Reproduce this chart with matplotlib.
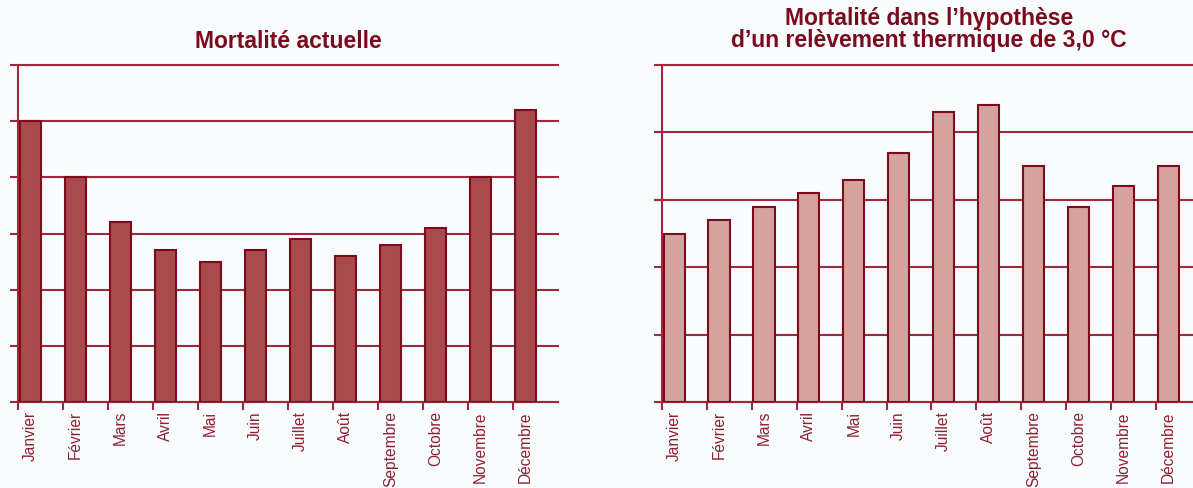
import numpy as np
import matplotlib
matplotlib.use("Agg")
import matplotlib.pyplot as plt

# Monthly mortality index (grid units)
mois = ["Janvier", "Février", "Mars", "Avril", "Mai", "Juin", "Juillet",
        "Août", "Septembre", "Octobre", "Novembre", "Décembre"]
mortalite_actuelle = [5.0, 4.0, 3.2, 2.7, 2.5, 2.7, 2.9, 2.6, 2.8, 3.1, 4.0, 5.2]
mortalite_plus3 = [2.5, 2.7, 2.9, 3.1, 3.3, 3.7, 4.3, 4.4, 3.5, 2.9, 3.2, 3.5]

titre_gauche = "Mortalité actuelle"
titre_droite = ["Mortalité dans l’hypothèse", "d’un relèvement thermique de 3,0 °C"]

BG = "#f8fcfd"
GRID = "#a0283b"
EDGE = "#7c0b1e"
TEXT = "#7a0a1e"
LABEL = "#8e2032"
FILL_L = "#a94a4c"
FILL_R = "#d6a29d"

plt.rcParams["font.family"] = ["Liberation Sans", "DejaVu Sans"]

W, H = 1193, 488
fig = plt.figure(figsize=(W / 100, H / 100), dpi=100, facecolor=BG)


def px_axes(x0, x1, ytop, ybot):
    return fig.add_axes([x0 / W, (H - ybot) / H, (x1 - x0) / W, (ybot - ytop) / H])


def draw_panel(ax, values, ymax, fill):
    ax.set_facecolor(BG)
    n = len(values)
    x = np.arange(n)
    ax.bar(x + 0.035, values, width=0.47, align="edge", color=fill,
           edgecolor=EDGE, linewidth=1.5, zorder=3)
    ax.set_xlim(0, n)
    ax.set_ylim(0, ymax)
    for s in ("top", "right"):
        ax.spines[s].set_visible(False)
    for s in ("left", "bottom"):
        ax.spines[s].set_color(GRID)
        ax.spines[s].set_linewidth(1.5)
    ax.set_yticks(np.arange(0, ymax + 1))
    ax.set_yticklabels([])
    ax.tick_params(axis="y", direction="out", length=5.8, width=1.5, color=GRID)
    ax.yaxis.grid(True, color=GRID, linewidth=1.5)
    for gl in ax.get_ygridlines():
        gl.set_clip_on(False)
    ax.set_axisbelow(True)
    # category boundaries as major ticks, month names on minor ticks
    ax.set_xticks(np.arange(0, n))
    ax.set_xticklabels([])
    ax.tick_params(axis="x", which="major", direction="out", length=5.8,
                   width=1.5, color=GRID)
    ax.set_xticks(x + 0.27, minor=True)
    ax.set_xticklabels(mois, minor=True, rotation=90, fontsize=11.2,
                       color=LABEL, va="top")
    ax.tick_params(axis="x", which="minor", length=0, pad=6.5)


ax1 = px_axes(18.3, 558.3, 65, 402)
draw_panel(ax1, mortalite_actuelle, 6, FILL_L)

ax2 = px_axes(662, 662 + 539, 65, 402)
draw_panel(ax2, mortalite_plus3, 5, FILL_R)

fig.text(288 / W, (H - 48) / H, titre_gauche, ha="center", va="baseline",
         fontsize=16.5, fontweight="bold", color=TEXT)
fig.text(929 / W, (H - 25) / H, titre_droite[0], ha="center", va="baseline",
         fontsize=16.5, fontweight="bold", color=TEXT)
fig.text(929 / W, (H - 47) / H, titre_droite[1], ha="center", va="baseline",
         fontsize=16.5, fontweight="bold", color=TEXT)

fig.savefig("out.png", dpi=100, facecolor=BG)
